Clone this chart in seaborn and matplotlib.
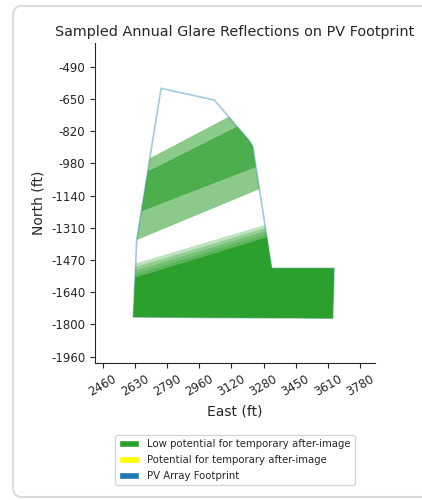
import numpy as np
import matplotlib
matplotlib.use("Agg")
import matplotlib.pyplot as plt
from matplotlib.patches import Polygon, Patch, FancyBboxPatch
import seaborn as sns

sns.set_style("ticks")
plt.rcParams["font.family"] = ["DejaVu Sans"]

pal = sns.color_palette("tab10")
green = pal[2]
blue = pal[0]

# PV array footprint outline (ft)
fp_east = [2759, 3032, 3216, 3230, 3327, 3647, 3640, 2617, 2634]
fp_north = [-600, -659, -870, -896, -1512, -1512, -1765, -1759, -1369]

# glare reflection bands, north value where each edge crosses the west / east reference lines
band_ref_east = [2600, 3700]
band_top_w = [-1007, -1065, -1247, -1496, -1514, -1532, -1550, -1567]
band_top_e = [-436, -520, -826, -1172, -1188, -1203, -1219, -1235]
band_bot_w = [-1065, -1247, -1383, -1900, -1900, -1900, -1900, -1900]
band_bot_e = [-520, -826, -932, -1900, -1900, -1900, -1900, -1900]
band_alpha = [0.55, 0.85, 0.55, 0.3, 0.3, 0.3, 0.3, 1.0]

x_labels = ["2460", "2630", "2790", "2960", "3120", "3280", "3450", "3610", "3780"]
y_labels = ["-490", "-650", "-820", "-980", "-1140", "-1310", "-1470", "-1640", "-1800", "-1960"]

legend_labels = ["Low potential for temporary after-image",
                 "Potential for temporary after-image",
                 "PV Array Footprint"]

fig = plt.figure(figsize=(4.22, 5.0), dpi=100)
ax = fig.add_axes([0.2251, 0.274, 0.6635, 0.64])

pts = np.column_stack([fp_east, fp_north])
ax.add_patch(Polygon(pts, closed=True, fill=False, edgecolor=blue, alpha=0.4, lw=1.2, zorder=1))
clip = Polygon(pts, closed=True, transform=ax.transData)

w, e = band_ref_east
for tw, te, bw, be, a in zip(band_top_w, band_top_e, band_bot_w, band_bot_e, band_alpha):
    p = ax.fill([w, e, e, w], [tw, te, be, bw], color=green, alpha=a, lw=0, zorder=2)[0]
    p.set_clip_path(clip)

ax.set_xlim(2420, 3857)
ax.set_ylim(-1992, -370)
ax.set_xticks(np.linspace(2460, 3780, len(x_labels)))
ax.set_xticklabels(x_labels, rotation=30, fontsize=8.5)
ax.set_yticks(np.linspace(-490, -1960, len(y_labels)))
ax.set_yticklabels(y_labels, fontsize=8.5)
ax.set_xlabel("East (ft)", fontsize=10)
ax.set_ylabel("North (ft)", fontsize=10)
ax.set_title("Sampled Annual Glare Reflections on PV Footprint", fontsize=10.4, pad=5)
sns.despine(ax=ax)

handles = [Patch(facecolor=green), Patch(facecolor="yellow"), Patch(facecolor=blue)]
fig.legend(handles, legend_labels, loc="upper center", bbox_to_anchor=(0.557, 0.14),
           fontsize=7.3, labelspacing=0.6, frameon=True)

card = FancyBboxPatch((13 / 422, 3 / 500), 1.2, 491 / 500,
                      boxstyle="round,pad=0,rounding_size=0.02",
                      transform=fig.transFigure, fill=False, ec="#dcdcdc", lw=1.5)
fig.add_artist(card)

fig.savefig("out.png", dpi=100)
